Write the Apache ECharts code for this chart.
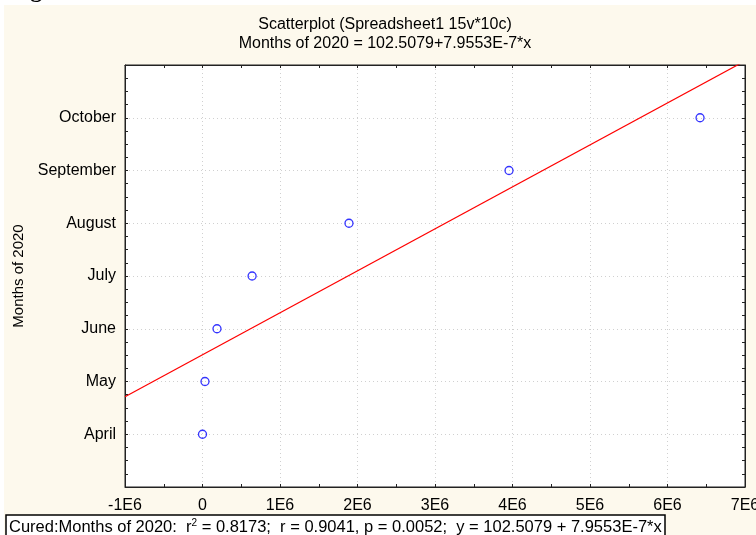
<!DOCTYPE html>
<html>
<head>
<meta charset="utf-8">
<script src="https://cdn.jsdelivr.net/npm/echarts@6/dist/echarts.min.js"></script>
<style>
html,body{margin:0;padding:0;background:#fff;}
#bg{position:absolute;left:4px;top:5px;width:752px;height:530px;background:#fdf9ed;}
#chart{position:absolute;left:0;top:0;width:756px;height:535px;}
</style>
</head>
<body>
<div id="bg"></div>
<div id="chart"></div>
<script>
// ---- data ----
const months = ['April', 'May', 'June', 'July', 'August', 'September', 'October'];
const monthCodes = [101, 102, 103, 104, 105, 106, 107];
const curedValues = [0, 32000, 187000, 640000, 1890000, 3955000, 6420000];
const xMin = -1e6, xMax = 7e6, xStep = 1e6;
const yMin = 100, yMax = 108, yStep = 1;
const fitIntercept = 102.5079;
const fitSlope = 7.9553e-7;
const fitXs = [-1e6, 7e6];
const titleLines = ['Scatterplot (Spreadsheet1 15v*10c)', 'Months of 2020 = 102.5079+7.9553E-7*x'];
const yAxisName = 'Months of 2020';

const points = curedValues.map((v, i) => [v, monthCodes[i]]);
const fitLine = fitXs.map(x => [x, fitIntercept + fitSlope * x]);

const FONT = '"Liberation Sans", Arial, sans-serif';
const chart = echarts.init(document.getElementById('chart'), null, {renderer: 'canvas'});

const xLabel = v => v === 0 ? '0' : (Math.round(v / 1e6) + 'E6');
const yLabel = v => { const i = monthCodes.indexOf(Math.round(v)); return i >= 0 ? months[i] : ''; };

function axisBits(minorSplit) {
  return {
    axisLine: {show: true, onZero: false, lineStyle: {color: '#222', width: 1}},
    axisTick: {show: true, inside: true, length: 3, lineStyle: {color: '#222'}},
    minorTick: {show: true, splitNumber: minorSplit, length: 3, lineStyle: {color: '#222'}}
  };
}

chart.setOption({
  backgroundColor: 'transparent',
  animation: false,
  textStyle: {fontFamily: FONT},
  grid: {left: 125, top: 65, right: 11, bottom: 48, containLabel: false, outerBoundsMode: 'none',
         show: true, backgroundColor: '#fff', borderColor: '#222', borderWidth: 1},
  xAxis: [
    Object.assign({
      type: 'value', min: xMin, max: xMax, interval: xStep, position: 'bottom',
      axisLabel: {formatter: xLabel, color: '#000', fontSize: 16, margin: 11, fontFamily: FONT, showMaxLabel: true, hideOverlap: false},
      splitLine: {show: true, lineStyle: {color: '#d0d0d0', type: [1, 3]}}
    }, axisBits(2)),
    Object.assign({
      type: 'value', min: xMin, max: xMax, interval: xStep, position: 'top',
      axisLabel: {show: false}, splitLine: {show: false}
    }, axisBits(2))
  ],
  yAxis: [
    Object.assign({
      type: 'value', min: yMin, max: yMax, interval: yStep, position: 'left',
      name: yAxisName, nameLocation: 'middle', nameGap: 98,
      nameTextStyle: {color: '#000', fontSize: 15, fontFamily: FONT},
      axisLabel: {formatter: yLabel, color: '#000', fontSize: 16, margin: 9, fontFamily: FONT},
      splitLine: {show: true, lineStyle: {color: '#d0d0d0', type: [1, 3]}}
    }, axisBits(4)),
    Object.assign({
      type: 'value', min: yMin, max: yMax, interval: yStep, position: 'right',
      axisLabel: {show: false}, splitLine: {show: false}
    }, axisBits(4))
  ],
  series: [
    {
      type: 'line', data: fitLine, xAxisIndex: 0, yAxisIndex: 0,
      showSymbol: false, symbol: 'none', clip: true,
      lineStyle: {color: '#ff0000', width: 1.2}, z: 2, silent: true
    },
    {
      type: 'scatter', data: points, xAxisIndex: 0, yAxisIndex: 0,
      symbol: 'circle', symbolSize: 8,
      itemStyle: {color: 'rgba(255,255,255,0)', borderColor: '#0000ff', borderWidth: 1.3}, z: 3
    }
  ],
  graphic: [
    {type: 'text', x: 9, y: -9, silent: true,
     style: {text: 'Figure', font: 'bold 24px "Liberation Serif", serif', fill: '#000', verticalAlign: 'middle'}},
    {type: 'text', x: 385, y: 25, silent: true,
     style: {text: titleLines[0], fontSize: 16, fontFamily: FONT, fill: '#000', align: 'center', verticalAlign: 'middle'}},
    {type: 'text', x: 385, y: 44, silent: true,
     style: {text: titleLines[1], fontSize: 16, fontFamily: FONT, fill: '#000', align: 'center', verticalAlign: 'middle'}},
    {type: 'rect', shape: {x: 6, y: 515, width: 659, height: 24}, silent: true,
     style: {fill: '#fff', stroke: '#000', lineWidth: 1.5}},
    {type: 'text', x: 9, y: 527, silent: true,
     style: {
       text: '{n|Cured:Months of 2020:  r}{s|2}{n| = 0.8173;  r = 0.9041, p = 0.0052;  y = 102.5079 + 7.9553E-7*x}',
       verticalAlign: 'middle', fill: '#000',
       rich: {
         n: {fontSize: 16.5, fontFamily: FONT, fill: '#000', verticalAlign: 'bottom', lineHeight: 18},
         s: {fontSize: 10, fontFamily: FONT, fill: '#000', verticalAlign: 'top', lineHeight: 18}
       }
     }}
  ]
});
</script>
</body>
</html>
